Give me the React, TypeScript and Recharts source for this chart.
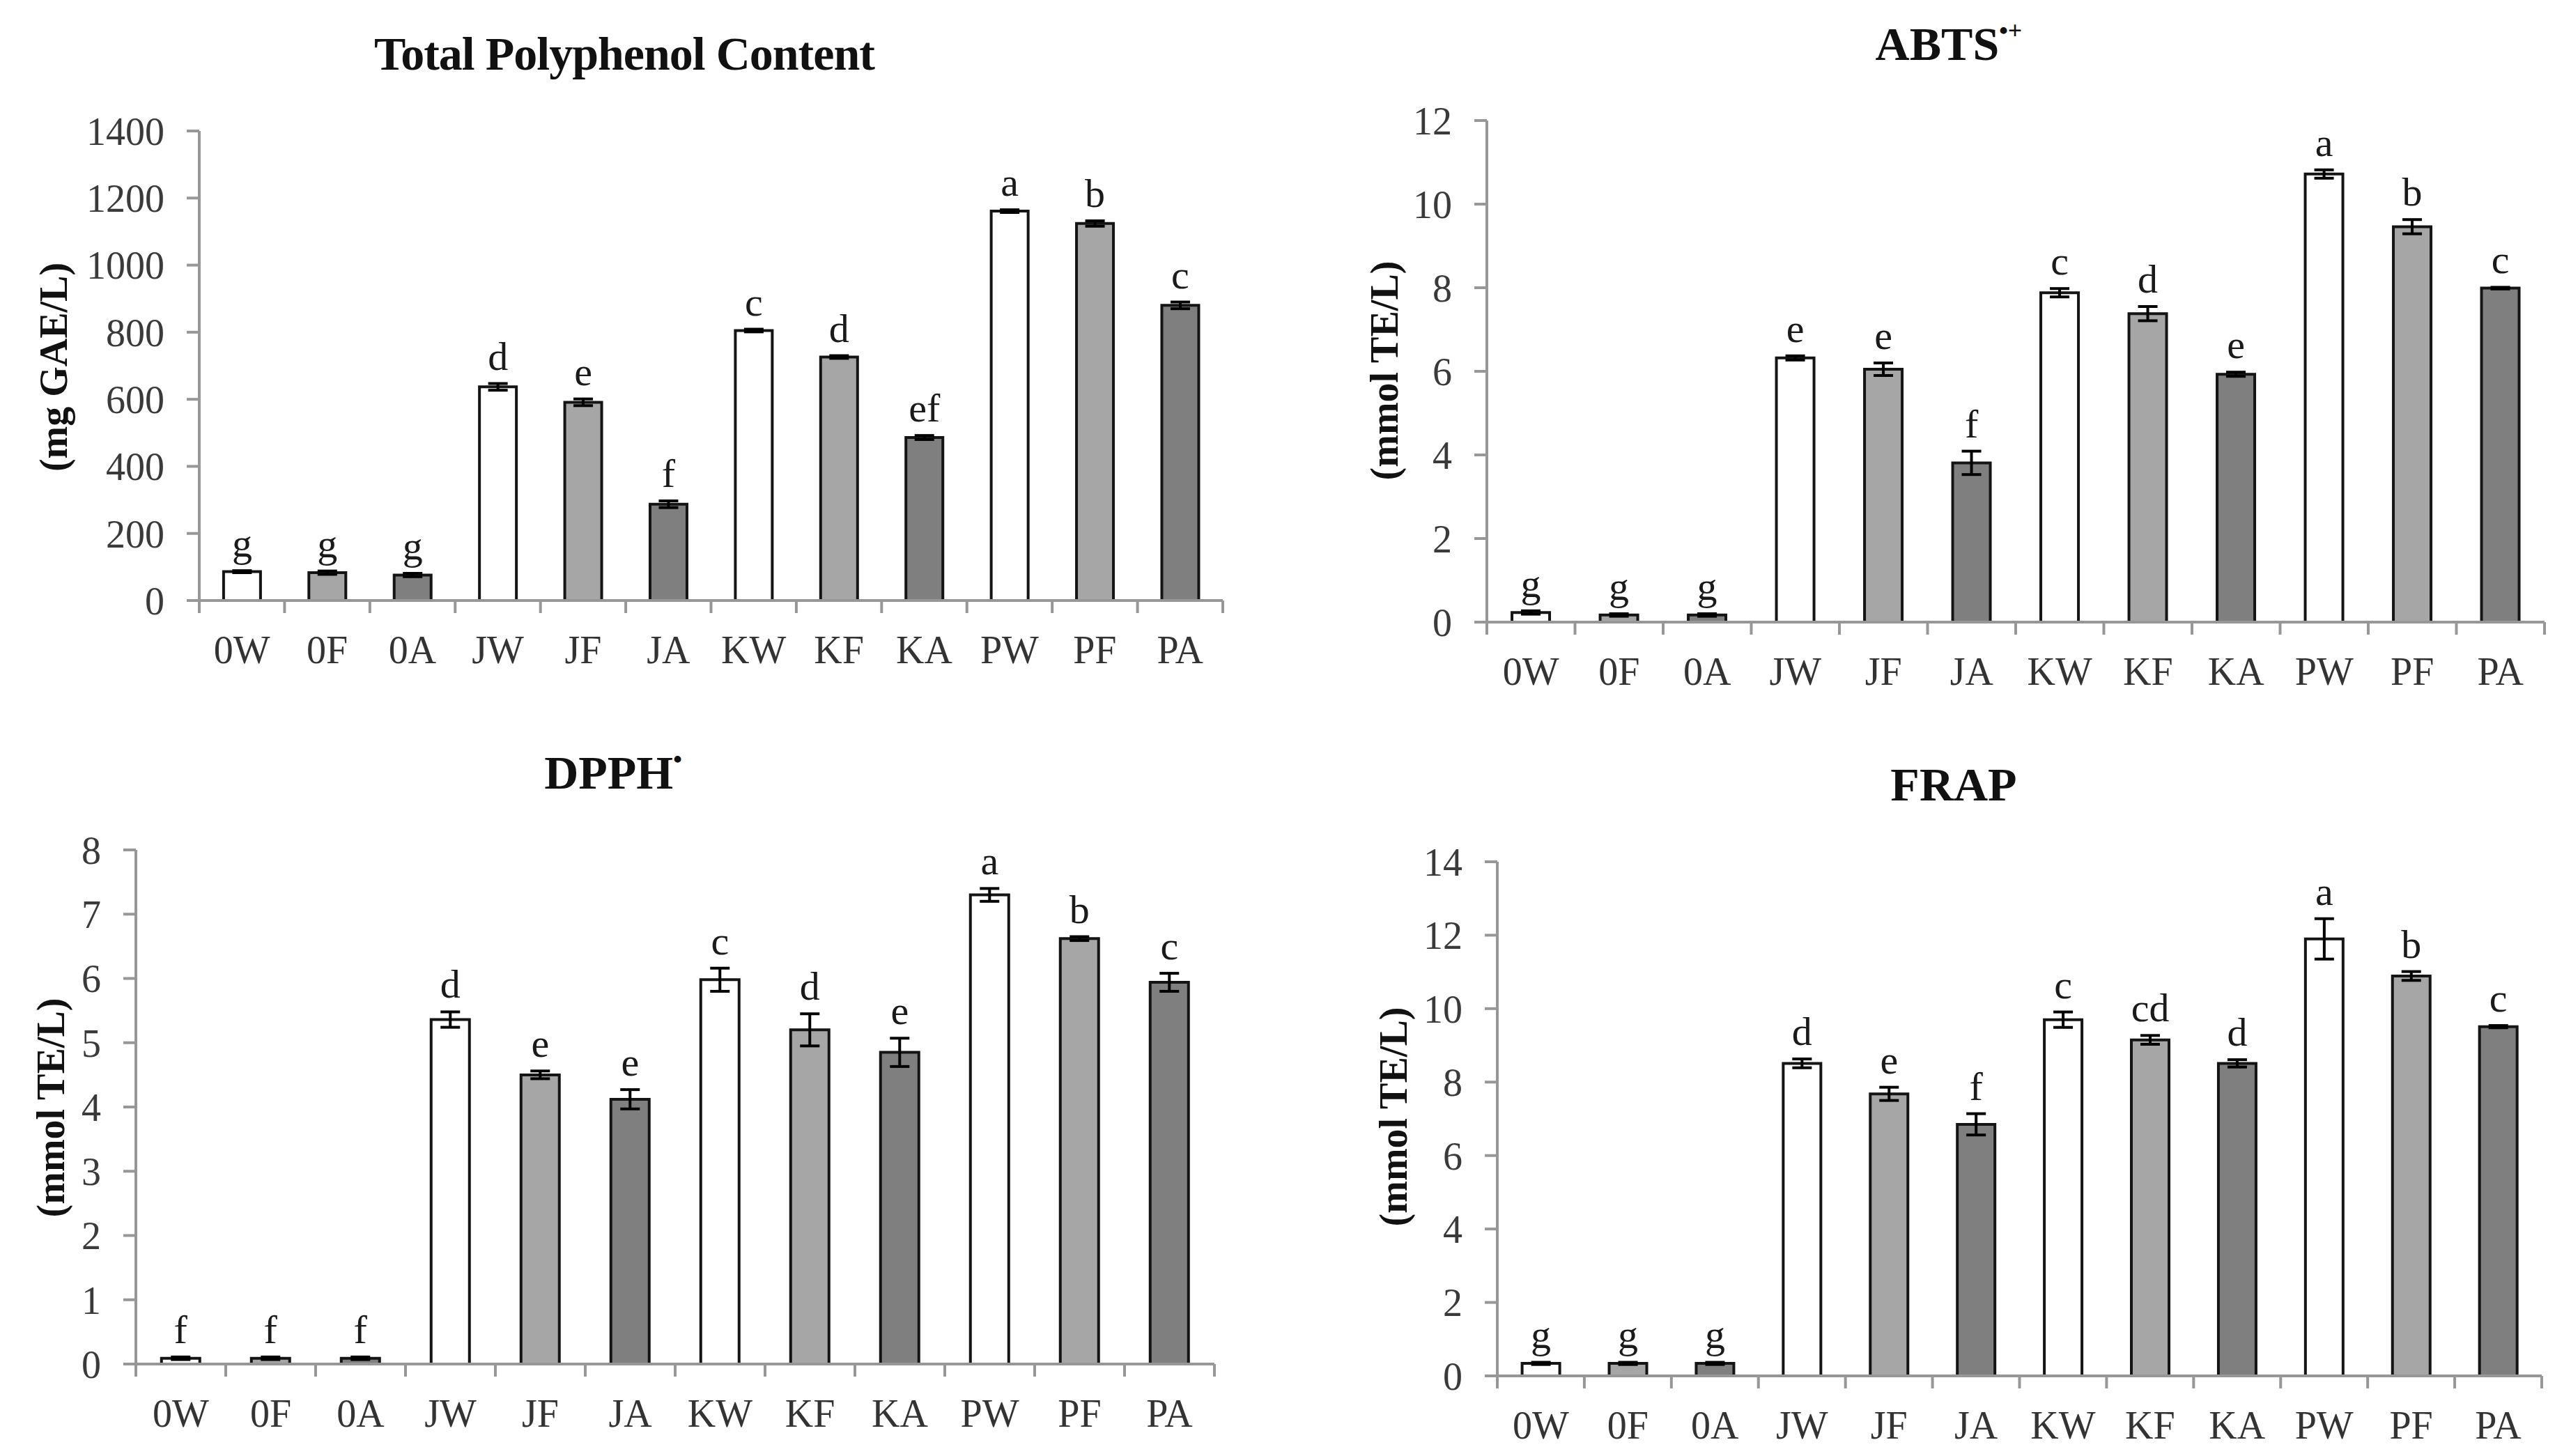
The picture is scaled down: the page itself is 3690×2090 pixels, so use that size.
import React from 'react'
import { BarChart, Bar, XAxis, YAxis, ErrorBar, Cell, LabelList } from 'recharts'

// sample groups, same order in every panel
const categories = ['0W', '0F', '0A', 'JW', 'JF', 'JA', 'KW', 'KF', 'KA', 'PW', 'PF', 'PA']

// Total polyphenol content (mg GAE/L)
const tpcValues = [86, 83, 76, 637, 591, 287, 805, 726, 486, 1161, 1124, 880]
const tpcErrors = [3, 5, 5, 10, 10, 10, 4, 4, 6, 4, 8, 10]
const tpcLetters = ['g', 'g', 'g', 'd', 'e', 'f', 'c', 'd', 'ef', 'a', 'b', 'c']
const tpcTicks = [0, 200, 400, 600, 800, 1000, 1200, 1400]

// ABTS (mmol TE/L)
const abtsValues = [0.23, 0.17, 0.17, 6.32, 6.05, 3.81, 7.88, 7.38, 5.93, 10.72, 9.46, 7.99]
const abtsErrors = [0.04, 0.03, 0.03, 0.05, 0.15, 0.28, 0.1, 0.17, 0.05, 0.1, 0.17, 0.02]
const abtsLetters = ['g', 'g', 'g', 'e', 'e', 'f', 'c', 'd', 'e', 'a', 'b', 'c']
const abtsTicks = [0, 2, 4, 6, 8, 10, 12]

// DPPH (mmol TE/L)
const dpphValues = [0.09, 0.09, 0.09, 5.36, 4.5, 4.12, 5.98, 5.2, 4.85, 7.3, 6.62, 5.94]
const dpphErrors = [0.02, 0.02, 0.02, 0.12, 0.06, 0.15, 0.18, 0.25, 0.22, 0.1, 0.03, 0.14]
const dpphLetters = ['f', 'f', 'f', 'd', 'e', 'e', 'c', 'd', 'e', 'a', 'b', 'c']
const dpphTicks = [0, 1, 2, 3, 4, 5, 6, 7, 8]

// FRAP (mmol TE/L)
const frapValues = [0.34, 0.34, 0.34, 8.51, 7.68, 6.85, 9.7, 9.15, 8.51, 11.9, 10.89, 9.51]
const frapErrors = [0.03, 0.03, 0.03, 0.12, 0.18, 0.29, 0.21, 0.12, 0.1, 0.55, 0.12, 0.03]
const frapLetters = ['g', 'g', 'g', 'd', 'e', 'f', 'c', 'cd', 'd', 'a', 'b', 'c']
const frapTicks = [0, 2, 4, 6, 8, 10, 12, 14]

const barFills = ['#ffffff', '#a6a6a6', '#7f7f7f'] // W, F, A

const SERIF = '"Liberation Serif", "Times New Roman", serif'
const AXIS = '#979797'
const QW = 1845
const QH = 1045

const CategoryTick = (props: any) => {
  const { x, y, payload } = props
  const half = payload?.offset ?? 0
  const isLast = payload?.value === categories[categories.length - 1]
  return (
    <g>
      <line x1={x - half} y1={y} x2={x - half} y2={y + 18} stroke={AXIS} strokeWidth={4} />
      {isLast && <line x1={x + half} y1={y} x2={x + half} y2={y + 18} stroke={AXIS} strokeWidth={4} />}
      <text x={x} y={y + 90} textAnchor="middle" fontFamily={SERIF} fontSize={56} fill="#333">
        {payload.value}
      </text>
    </g>
  )
}

type PanelProps = {
  values: number[]
  errors: number[]
  letters: string[]
  ticks: number[]
  qx: number
  qy: number
  plot: [number, number, number, number] // left, top, right, bottom (page px)
}

function Panel({ values, errors, letters, ticks, qx, qy, plot }: PanelProps) {
  const rows = categories.map((name, i) => ({ name, value: values[i], err: errors[i], letter: letters[i] }))
  const yw = 140
  const xh = 100
  const margin = {
    left: plot[0] - qx - yw,
    top: plot[1] - qy,
    right: qx + QW - plot[2],
    bottom: qy + QH - plot[3] - xh,
  }
  return (
    <div style={{ position: 'absolute', left: qx, top: qy, width: QW, height: QH }}>
      <BarChart width={QW} height={QH} data={rows} margin={margin} barCategoryGap="28.5%">
        <XAxis
          dataKey="name"
          height={xh}
          interval={0}
          tickSize={0}
          tickMargin={0}
          tickLine={false}
          axisLine={{ stroke: AXIS, strokeWidth: 4 }}
          tick={<CategoryTick />}
        />
        <YAxis
          width={yw}
          domain={[0, ticks[ticks.length - 1]]}
          ticks={ticks}
          interval={0}
          allowDataOverflow
          tickSize={18}
          tickMargin={32}
          axisLine={{ stroke: AXIS, strokeWidth: 4 }}
          tickLine={{ stroke: AXIS, strokeWidth: 4 }}
          tick={{ fontSize: 56, fontFamily: SERIF, fill: '#3a3a3a' }}
        />
        <Bar dataKey="value" stackId="s" stroke="#141414" strokeWidth={4} isAnimationActive={false}>
          {rows.map((_, i) => (
            <Cell key={i} fill={barFills[i % 3]} />
          ))}
          <ErrorBar dataKey="err" width={14} strokeWidth={4} stroke="#000" direction="y" />
        </Bar>
        <Bar dataKey="err" stackId="s" fill="none" stroke="none" isAnimationActive={false}>
          <LabelList dataKey="letter" position="top" offset={20} fill="#1a1a1a" fontSize={58} fontFamily={SERIF} />
        </Bar>
      </BarChart>
    </div>
  )
}

export default function App() {
  return (
    <div style={{ position: 'absolute', left: 0, top: 0, width: 3690, height: 2090, background: '#fff' }}>
      <Panel values={tpcValues} errors={tpcErrors} letters={tpcLetters} ticks={tpcTicks} qx={0} qy={0} plot={[286, 188, 1755, 862]} />
      <Panel values={abtsValues} errors={abtsErrors} letters={abtsLetters} ticks={abtsTicks} qx={QW} qy={0} plot={[2134, 173, 3652, 893]} />
      <Panel values={dpphValues} errors={dpphErrors} letters={dpphLetters} ticks={dpphTicks} qx={0} qy={QH} plot={[195, 1220, 1743, 1958]} />
      <Panel values={frapValues} errors={frapErrors} letters={frapLetters} ticks={frapTicks} qx={QW} qy={QH} plot={[2149, 1237, 3648, 1975]} />

      {/* titles and axis units */}
      <svg width={3690} height={2090} style={{ position: 'absolute', left: 0, top: 0, pointerEvents: 'none' }}>
        <g fontFamily={SERIF} fontWeight="bold" fill="#111">
          <text x={896} y={100} fontSize={68} textAnchor="middle" letterSpacing={-1}>Total Polyphenol Content</text>
          <text x={2797} y={86} fontSize={68} textAnchor="middle">
            ABTS<tspan fontSize={36} dy={-30}>•+</tspan>
          </text>
          <text x={880} y={1132} fontSize={68} textAnchor="middle">
            DPPH<tspan fontSize={36} dy={-30}>•</tspan>
          </text>
          <text x={2804} y={1149} fontSize={68} textAnchor="middle">FRAP</text>

          <text transform="translate(77 527) rotate(-90)" fontSize={56} textAnchor="middle" dominantBaseline="central">(mg GAE/L)</text>
          <text transform="translate(1987 532) rotate(-90)" fontSize={56} textAnchor="middle" dominantBaseline="central">(mmol TE/L)</text>
          <text transform="translate(73 1590) rotate(-90)" fontSize={56} textAnchor="middle" dominantBaseline="central">(mmol TE/L)</text>
          <text transform="translate(2000 1603) rotate(-90)" fontSize={56} textAnchor="middle" dominantBaseline="central">(mmol TE/L)</text>
        </g>
      </svg>
    </div>
  )
}
